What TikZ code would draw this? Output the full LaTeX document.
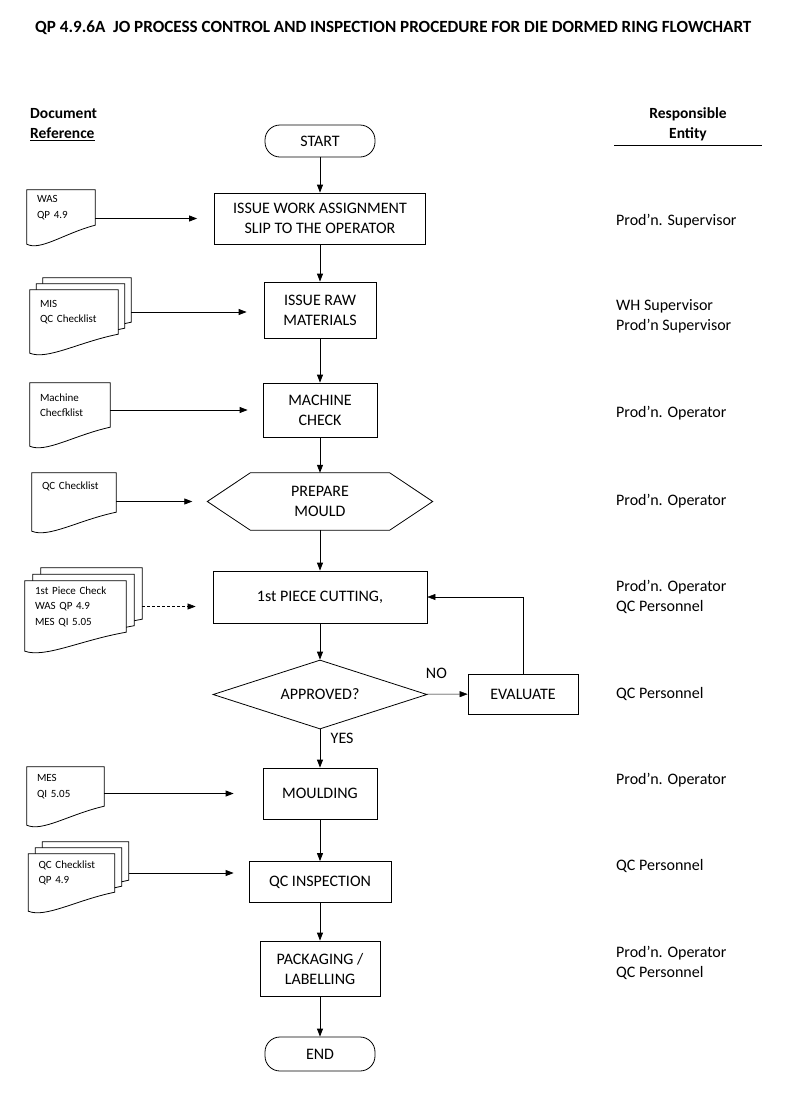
\documentclass[tikz,border=0pt]{standalone}
\usepackage{fontspec}
\setmainfont{Carlito}
\usetikzlibrary{arrows.meta,shapes.geometric,calc,backgrounds}

% one sheet of a document symbol, around node #1, moved by #2
\newcommand{\sheet}[2]{%
	\draw[sheetline] ([shift={#2}]#1.north west) -- ([shift={#2}]#1.north east)
	-- ([shift={#2}]#1.south east)
	.. controls ($([shift={#2}]#1.south east)!0.45!([shift={#2}]#1.south west)+(0,8)$)
	and ($([shift={#2}]#1.south west)!0.2!([shift={#2}]#1.south east)+(0,26)$)
	.. ($([shift={#2}]#1.south west)+(0,19)$) -- cycle;}
\newcommand{\docsheet}[1]{%
	\begin{scope}[on background layer]
		\sheet{#1}{(0,0)}
	\end{scope}}
\newcommand{\docpile}[3]{%
	\begin{scope}[on background layer]
		\sheet{#1}{({2*#2},{2*#3})}
		\sheet{#1}{(#2,#3)}
		\sheet{#1}{(0,0)}
	\end{scope}}

\begin{document}
\begin{tikzpicture}[
		x=1pt, y=-1pt,
		every node/.style={font=\fontsize{16}{20}\selectfont, align=center},
		box/.style={draw, rectangle, line width=0.8pt},
		term/.style={draw, rectangle, rounded corners=15pt, line width=0.8pt,
			minimum width=110pt, minimum height=32pt},
		decision/.style={draw, diamond, aspect=3.1, inner sep=0pt, line width=0.8pt,
			minimum width=214pt, minimum height=69pt},
		docnode/.style={font=\fontsize{11}{15.5}\selectfont, align=left, inner xsep=10pt},
		sheetline/.style={draw, fill=white, line width=0.8pt},
		entity/.style={anchor=west, inner sep=0pt, align=left},
		head/.style={font=\bfseries\fontsize{15.5}{20}\selectfont, inner sep=0pt},
		flow/.style={line width=0.8pt, -{Triangle[length=8pt, width=6pt]}},
		thinflow/.style={flow, line width=0.5pt}
		]
		\useasboundingbox (0,0) rectangle (788,1109);
		
		% headings
		\node[head, anchor=west, font=\bfseries\fontsize{17.1}{20}\selectfont] (title) at (35,28)
		{QP 4.9.6A\ \ JO PROCESS CONTROL AND INSPECTION PROCEDURE FOR DIE DORMED RING FLOWCHART};
		\node[head, anchor=west, align=left] (dochead) at (30,125) {Document\\\underline{Reference}};
		\node[head] (resphead) at (688,124.5) {Responsible\\Entity};
		\draw[line width=0.8pt] (resphead.south) ++(-74,4) -- ++(148,0);
		
		% main flow
		\node[term] (start) at (320,141) {START};
		\node[box, minimum width=211pt, minimum height=51pt] (issue) at (320,218.5)
		{ISSUE WORK ASSIGNMENT\\SLIP TO THE OPERATOR};
		\node[box, minimum width=112pt, minimum height=56pt] (raw) at (320,310) {ISSUE RAW\\MATERIALS};
		\node[box, minimum width=114pt, minimum height=54pt] (mach) at (320,410) {MACHINE\\CHECK};
		\node[minimum width=225pt, minimum height=57pt] (mould) at (320,501.5) {PREPARE\\MOULD};
		\draw[line width=0.8pt] (mould.west) -- ([xshift=43pt]mould.north west)
		-- ([xshift=-43pt]mould.north east) -- (mould.east)
		-- ([xshift=-43pt]mould.south east) -- ([xshift=43pt]mould.south west) -- cycle;
		\node[box, minimum width=214pt, minimum height=52pt] (cut) at (320,597) {1st PIECE CUTTING,};
		\node[decision] (ok) at (320,694.5) {APPROVED?};
		\node[box, minimum width=110pt, minimum height=40pt] (eval) at (523,694) {EVALUATE};
		\node[box, minimum width=114pt, minimum height=51pt] (moulding) at (320,793.5) {MOULDING};
		\node[box, minimum width=142pt, minimum height=41pt] (qcins) at (320,882) {QC INSPECTION};
		\node[box, minimum width=120pt, minimum height=55pt] (pack) at (320,968.5) {PACKAGING /\\LABELLING};
		\node[term, minimum height=34pt] (end) at (320,1054) {END};
		
		\foreach \a/\b in {start/issue, issue/raw, raw/mach, mach/mould, mould/cut, cut/ok,
			moulding/qcins, qcins/pack, pack/end}
		\draw[flow] (\a) -- (\b);
		\draw[flow] (ok) -- node[pos=0.23, right=7pt] {YES} (moulding);
		\draw[thinflow] (ok) -- node[pos=0.24, above=12pt] {NO} (eval);
		\draw[thinflow] (eval) |- (cut);
		
		% document references
		\node[docnode, text width=48pt, minimum height=35pt] (wasdoc) at (61,207.5) {WAS\\QP 4.9};
		\docsheet{wasdoc}
		\node[docnode, text width=68pt, minimum height=44pt] (misdoc) at (74,312) {MIS\\QC Checklist};
		\docpile{misdoc}{6.5}{-6}
		\node[docnode, text width=60pt, minimum height=44pt] (machdoc) at (70,405) {Machine\\Checfklist};
		\docsheet{machdoc}
		\node[docnode, text width=64pt, minimum height=39pt, text depth=14pt] (qcdoc) at (74,492.5) {QC Checklist};
		\docsheet{qcdoc}
		\node[docnode, text width=81pt, minimum height=51pt] (piecedoc) at (75.5,606.5)
		{1st Piece Check\\WAS QP 4.9\\MES QI 5.05};
		\docpile{piecedoc}{8}{-6.5}
		\node[docnode, text width=57pt, minimum height=39pt] (mesdoc) at (65.5,786.5) {MES\\QI 5.05};
		\docsheet{mesdoc}
		\node[docnode, text width=66pt, minimum height=38pt] (qcqpdoc) at (71.5,873) {QC Checklist\\QP 4.9};
		\docpile{qcqpdoc}{7}{-6}
		
		\draw[flow, shorten >=17pt] (wasdoc.east |- issue.west) -- (issue.west);
		\draw[flow, shorten >=17pt] ([xshift=13pt]misdoc.east) -- (misdoc.east -| raw.west);
		\draw[flow, shorten >=15pt] (machdoc.east |- mach.west) -- (mach.west);
		\draw[flow, shorten >=15pt] (qcdoc.east |- mould.west) -- (mould.west);
		\draw[thinflow, densely dashed, shorten >=17pt] ([xshift=16pt]piecedoc.east) -- (piecedoc.east -| cut.west);
		\draw[flow, shorten >=29pt] (mesdoc.east |- moulding.west) -- (moulding.west);
		\draw[flow, shorten >=15pt] ([xshift=14pt]qcqpdoc.east) -- (qcqpdoc.east -| qcins.west);
		
		% responsible entity
		\node[entity] (e1) at (616,221) {Prod'n. Supervisor};
		\node[entity] (e2) at (616,316.5) {WH Supervisor\\Prod'n Supervisor};
		\node[entity] (e3) at (616,413) {Prod'n. Operator};
		\node[entity] (e4) at (616,501) {Prod'n. Operator};
		\node[entity] (e5) at (616,596.5) {Prod'n. Operator\\QC Personnel};
		\node[entity] (e6) at (616,694) {QC Personnel};
		\node[entity] (e7) at (616,780) {Prod'n. Operator};
		\node[entity] (e8) at (616,866) {QC Personnel};
		\node[entity] (e9) at (616,962.5) {Prod'n. Operator\\QC Personnel};
		
	\end{tikzpicture}
\end{document}
